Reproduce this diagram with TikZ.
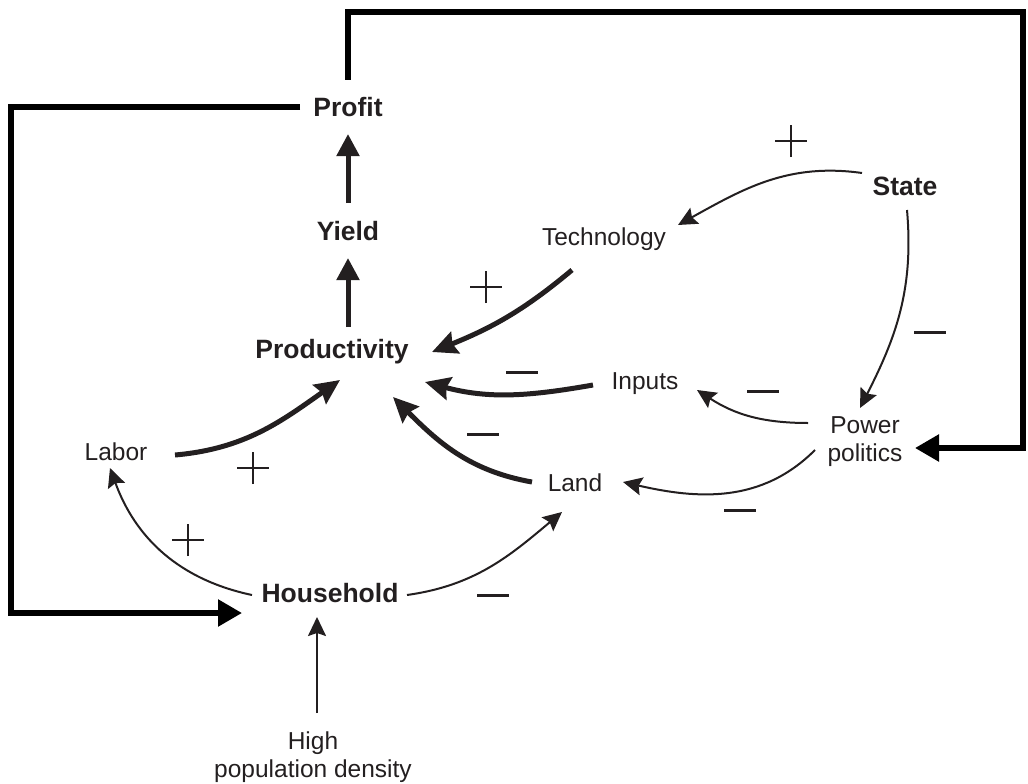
\documentclass[tikz,border=0pt]{standalone}
\usepackage{fontspec}
\setmainfont{Liberation Sans}
\usetikzlibrary{arrows.meta}
\definecolor{ink}{RGB}{35,31,32}
\begin{document}
\begin{tikzpicture}[x=1pt,y=1pt,
  lbl/.style={inner sep=0pt, font=\fontsize{24.5}{28}\selectfont, align=center, text=ink},
  blbl/.style={inner sep=0pt, font=\fontsize{26.5}{30}\selectfont\bfseries, align=center, text=ink},
  framearr/.style={line width=5.5pt, draw=black, -{Triangle[length=24pt,width=26pt]}},
  bigarr/.style={line width=5pt, draw=ink, -{Stealth[length=25pt,width=23pt,inset=3pt]}},
  straightarr/.style={line width=5pt, draw=ink, -{Triangle[length=22pt,width=22pt]}},
  thinarr/.style={line width=2pt, draw=ink, -{Stealth[length=19pt,width=18pt,inset=3pt]}},
  plussign/.pic={\draw[line width=1.6pt,ink] (-16,0) -- (16,0) (0,-16) -- (0,16);},
  minussign/.pic={\draw[line width=3pt,ink] (-16,0) -- (16,0);}
]
\useasboundingbox (0,0) rectangle (1028,-784);

% nodes
\node[blbl] (profit) at (348,-107) {Profit};
\node[blbl] (yield) at (348,-231) {Yield};
\node[blbl] (prod) at (332,-352) {Productivity};
\node[lbl] (labor) at (116,-452) {Labor};
\node[blbl] (household) at (330,-593) {Household};
\node[lbl] (highpop) at (313,-757) {High\\population density};
\node[lbl] (tech) at (604,-239) {Technology};
\node[blbl] (state) at (905,-186) {State};
\node[lbl] (inputs) at (645,-384) {Inputs};
\node[lbl] (power) at (865,-442) {Power\\politics};
\node[lbl] (land) at (575,-483) {Land};

% corner points of the outer loops
\coordinate (cornerLT) at (11,-107);
\coordinate (cornerLB) at (11,-613);
\coordinate (cornerTL) at (348,-12);
\coordinate (cornerTR) at (1023,-12);
\coordinate (cornerRB) at (1023,-448);

% outer loops
\draw[framearr] ([shift={(-48,0)}]profit.center) -- (cornerLT) -- (cornerLB) -- ([shift={(-88,-20)}]household.center);
\draw[framearr] ([shift={(0,27)}]profit.center) -- (cornerTL) -- (cornerTR) -- (cornerRB) -- ([shift={(50,-6)}]power.center);

% straight thick arrows
\draw[straightarr] ([shift={(0,28)}]yield.center) -- ([shift={(0,-27)}]profit.center);
\draw[straightarr] ([shift={(16,25)}]prod.center) -- ([shift={(0,-27)}]yield.center);

% curved thick arrows
\draw[bigarr] ([shift={(-32,-31)}]tech.center) to[out=220,in=22] ([shift={(100,0)}]prod.center);
\draw[bigarr] ([shift={(-52,-1)}]inputs.center) to[out=190,in=-15] ([shift={(93,-30)}]prod.center);
\draw[bigarr] ([shift={(-43,1)}]land.center) to[out=170,in=-45] ([shift={(61,-45)}]prod.center);
\draw[bigarr] ([shift={(59,-3)}]labor.center) to[out=5,in=215] ([shift={(8,-28)}]prod.center);

% thin arrows
\draw[thinarr] ([shift={(-43,13)}]state.center) to[out=172,in=29] ([shift={(74,14)}]tech.center);
\draw[thinarr] ([shift={(2,-24)}]state.center) to[out=-85,in=63] ([shift={(-5,34)}]power.center);
\draw[thinarr] ([shift={(-57,19)}]power.center) to[out=180,in=-33] ([shift={(52,-6)}]inputs.center);
\draw[thinarr] ([shift={(-50,-8)}]power.center) to[out=225,in=-13] ([shift={(48,1)}]land.center);
\draw[thinarr] ([shift={(-78,-2)}]household.center) to[out=168,in=-70] ([shift={(-6,-16)}]labor.center);
\draw[thinarr] ([shift={(77,-2)}]household.center) to[out=8,in=220] ([shift={(-13,-29)}]land.center);
\draw[thinarr] ([shift={(4,44)}]highpop.center) -- ([shift={(-13,-24)}]household.center);

% signs
\pic (p1) at (791,-141) {plussign};
\pic (p2) at (486,-287) {plussign};
\pic (p3) at (253,-468) {plussign};
\pic (p4) at (188,-540) {plussign};
\pic (m1) at (483,-434) {minussign};
\pic (m2) at (493,-595) {minussign};
\pic (m3) at (522,-372) {minussign};
\pic (m4) at (763,-391) {minussign};
\pic (m5) at (930,-332) {minussign};
\pic (m6) at (740,-510) {minussign};
\end{tikzpicture}
\end{document}
